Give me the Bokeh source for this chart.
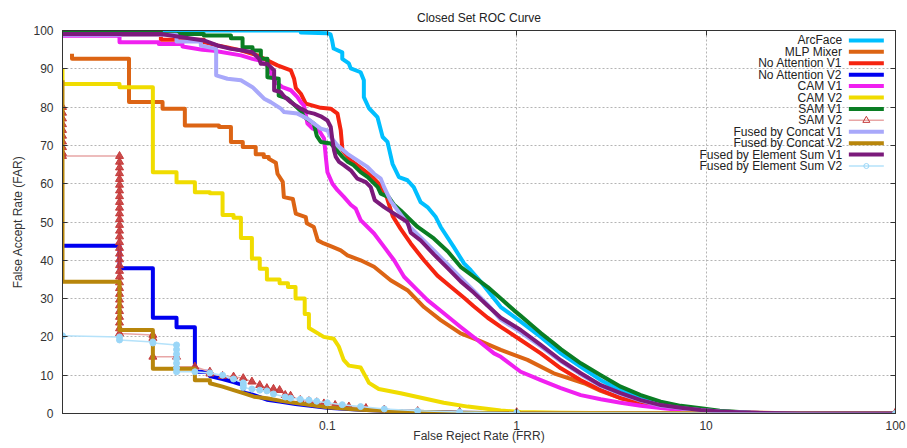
from bokeh.plotting import figure
from bokeh.models import Range1d, LinearScale, FixedTicker, LinearAxis, LogAxis
from bokeh.core.properties import value
from bokeh.embed import file_html
from bokeh.resources import INLINE

FONT = "Liberation Sans"

# ---------------- data (FRR %, FAR %) ----------------
x_ticks = [0.1, 1, 10, 100]
x_tick_labels = ["0.1", "1", "10", "100"]
y_ticks = [0, 10, 20, 30, 40, 50, 60, 70, 80, 90, 100]

series_names = ["ArcFace", "MLP Mixer", "No Attention V1", "No Attention V2", "CAM V1", "CAM V2",
                "SAM V1", "SAM V2", "Fused by Concat V1", "Fused by Concat V2",
                "Fused by Element Sum V1", "Fused by Element Sum V2"]

arcface_frr = [0.004, 0.0725, 0.0725, 0.100, 0.104, 0.106, 0.108, 0.120, 0.120, 0.130,
               0.133, 0.150, 0.156, 0.156, 0.166, 0.184, 0.196, 0.208, 0.221, 0.239,
               0.265, 0.286, 0.311, 0.338, 0.374, 0.397, 0.465, 0.527, 0.572, 0.646,
               0.759, 0.824, 1.05, 1.34, 1.71, 2.18, 2.78, 3.54, 4.52, 5.76,
               7.35, 9.36, 11.8, 17.2, 31.6, 100]
arcface_far = [100, 100, 99.5, 99.3, 99.0, 97.4, 95.3, 94.3, 92.6, 91.4,
               90.1, 89.1, 87.0, 82.6, 79.7, 77.4, 72.2, 70.9, 65.2, 61.7,
               60.9, 59.1, 55.2, 53.9, 51.3, 48.7, 43.5, 39.2, 37.4, 34.4,
               30.0, 27.8, 24.0, 20.0, 15.7, 12.2, 8.7, 6.1, 4.0, 2.7,
               1.8, 1.2, 0.5, 0.2, 0.0, 0.0]

mlp_frr = [0.00449, 0.00449, 0.00898, 0.00898, 0.0135, 0.0135, 0.0177, 0.0177, 0.0268, 0.0268,
           0.0310, 0.0310, 0.0358, 0.0358, 0.0419, 0.0419, 0.0462, 0.0462, 0.0491, 0.0491,
           0.0535, 0.0546, 0.0582, 0.0590, 0.0658, 0.0682, 0.0770, 0.0779, 0.0849, 0.0891,
           0.0958, 0.1065, 0.1178, 0.1278, 0.150, 0.1766, 0.216, 0.265, 0.324, 0.397,
           0.506, 0.620, 0.824, 1.14, 1.57, 2.27, 2.78, 3.54, 4.52, 5.76,
           7.35, 9.36, 11.8, 19.3, 31.6, 100]
mlp_far = [93.9, 92.6, 92.6, 81.3, 81.3, 79.6, 79.6, 75.2, 75.2, 74.8,
           74.8, 70.9, 70.9, 69.6, 69.6, 67.7, 67.7, 67.0, 67.0, 66.5,
           65.5, 62.6, 60.5, 56.5, 56.0, 52.2, 51.3, 49.7, 48.7, 45.2,
           44.4, 43.5, 42.6, 41.3, 40.0, 38.3, 34.8, 32.2, 27.8, 24.4,
           20.9, 19.2, 16.6, 14.0, 10.5, 7.9, 5.9, 4.0, 2.8, 2.0,
           1.4, 0.9, 0.5, 0.2, 0.0, 0.0]

noatt1_frr = [0.004, 0.01323, 0.01323, 0.0223, 0.0223, 0.0263, 0.0297, 0.0350, 0.0428, 0.0464,
              0.0546, 0.0642, 0.0668, 0.0682, 0.0725, 0.0770, 0.0924, 0.1043, 0.1132, 0.1178,
              0.1203, 0.133, 0.1443, 0.1564, 0.1732, 0.1916, 0.206, 0.2216, 0.244, 0.2758,
              0.324, 0.3815, 0.4484, 0.527, 0.593, 0.703, 0.824, 1.05, 1.34, 1.71,
              2.18, 2.78, 3.54, 4.52, 5.76, 7.35, 9.36, 11.8, 19.3, 31.6, 100]
noatt1_far = [98.8, 98.8, 97.6, 97.6, 97.0, 96.1, 95.6, 94.8, 93.5, 92.6,
              90.9, 89.6, 87.4, 85.0, 83.5, 80.9, 79.8, 79.6, 78.3, 73.9,
              68.7, 66.1, 64.8, 63.5, 61.7, 59.5, 56.5, 51.5, 48.2, 44.4,
              40.0, 36.0, 33.1, 30.2, 28.0, 25.0, 22.6, 19.2, 15.7, 11.8,
              8.7, 6.1, 4.0, 2.7, 1.8, 1.2, 0.7, 0.3, 0.1, 0.0, 0.0]

noatt2_frr = [0.004, 0.008, 0.008, 0.012, 0.012, 0.016, 0.016, 0.020, 0.020, 0.024,
              0.024, 0.028, 0.032, 0.036, 0.036, 0.040, 0.048, 0.056, 0.068, 0.088,
              0.100, 0.15, 0.25, 0.5, 1.0, 100]
noatt2_far = [43.8, 43.8, 37.9, 37.9, 25.0, 25.0, 22.5, 22.5, 10.9, 10.9,
              9.8, 9.0, 8.2, 7.4, 5.5, 5.0, 3.6, 3.1, 2.5, 1.8,
              1.5, 1.0, 0.5, 0.2, 0.05, 0.0]

cam1_frr = [0.004, 0.008, 0.008, 0.0129, 0.0129, 0.0172, 0.0172, 0.0219, 0.0252, 0.0350,
            0.0403, 0.0437, 0.0464, 0.0480, 0.0516, 0.0535, 0.0580, 0.0642, 0.0696, 0.0725,
            0.0754, 0.0786, 0.0836, 0.0905, 0.0962, 0.0982, 0.1002, 0.1065, 0.1132, 0.1227,
            0.133, 0.1413, 0.150, 0.1766, 0.1996, 0.2253, 0.2543, 0.2991, 0.338, 0.4138,
            0.506, 0.620, 0.759, 0.824, 0.967, 1.05, 1.34, 1.71, 2.18, 2.78,
            3.54, 4.52, 5.76, 7.35, 9.36, 11.8, 19.3, 31.6, 100]
cam1_far = [98.6, 98.6, 96.9, 96.9, 96.5, 96.5, 95.8, 95.0, 94.7, 93.5,
            92.6, 92.2, 91.3, 91.0, 88.0, 86.5, 85.2, 84.4, 82.6, 81.3,
            80.4, 75.7, 74.4, 73.9, 71.8, 67.0, 63.0, 60.0, 58.3, 56.5,
            54.5, 53.5, 50.5, 47.0, 43.5, 40.0, 35.7, 32.2, 29.6, 26.1,
            22.6, 19.2, 15.7, 14.8, 12.2, 10.9, 8.7, 6.6, 4.8, 3.7,
            2.8, 2.0, 1.4, 0.9, 0.5, 0.3, 0.1, 0.0, 0.0]

cam2_frr = [0.004, 0.004, 0.008, 0.008, 0.012, 0.012, 0.016, 0.016, 0.020, 0.020,
            0.024, 0.024, 0.028, 0.028, 0.032, 0.032, 0.035, 0.035, 0.040, 0.040,
            0.044, 0.044, 0.048, 0.048, 0.056, 0.056, 0.062, 0.062, 0.068, 0.068,
            0.076, 0.076, 0.080, 0.080, 0.0958, 0.1082, 0.115, 0.122, 0.130, 0.150,
            0.160, 0.166, 0.187, 0.244, 0.300, 0.412, 0.552, 0.824, 1.05, 1.71,
            3.54, 100]
cam2_far = [90.0, 86.0, 86.0, 85.2, 85.2, 63.0, 63.0, 60.4, 60.4, 57.8,
            57.8, 57.5, 57.5, 51.8, 51.8, 51.1, 51.1, 45.8, 45.8, 40.5,
            40.5, 37.8, 37.8, 35.0, 35.0, 34.0, 34.0, 33.0, 33.0, 30.0,
            30.0, 26.0, 26.0, 22.3, 20.0, 19.5, 17.5, 14.0, 12.5, 12.0,
            9.5, 8.0, 6.4, 5.3, 4.3, 2.8, 1.8, 0.8, 0.4, 0.2,
            0.05, 0.0]

sam1_frr = [0.004, 0.01323, 0.01323, 0.0223, 0.0223, 0.0310, 0.0310, 0.0357, 0.0357, 0.0403,
            0.0403, 0.0446, 0.0446, 0.0483, 0.0483, 0.0554, 0.0554, 0.0619, 0.0725, 0.0752,
            0.0849, 0.0880, 0.0924, 0.1043, 0.1203, 0.1283, 0.1380, 0.150, 0.1635, 0.1848,
            0.1916, 0.2111, 0.2245, 0.244, 0.300, 0.365, 0.433, 0.506, 0.594, 0.703,
            0.824, 0.965, 1.05, 1.23, 1.34, 1.57, 1.71, 2.18, 2.78, 3.54,
            4.52, 5.76, 7.35, 9.36, 11.8, 17.2, 31.6, 100]
sam1_far = [99.7, 99.7, 99.1, 99.1, 98.7, 98.7, 98.0, 98.0, 95.6, 95.6,
            94.8, 94.8, 92.6, 92.6, 87.8, 87.4, 83.0, 82.2, 79.0, 77.5,
            75.7, 72.5, 70.9, 70.5, 67.0, 65.7, 64.8, 63.0, 61.7, 59.1,
            57.4, 56.5, 54.6, 53.0, 48.7, 45.7, 42.3, 38.3, 35.7, 33.0,
            30.0, 27.0, 25.5, 22.6, 21.0, 18.3, 16.8, 13.1, 10.0, 7.0,
            4.8, 3.1, 2.0, 1.4, 0.7, 0.2, 0.0, 0.0]

sam2_frr = [0.004, 0.004, 0.004, 0.004, 0.004, 0.004, 0.004, 0.004, 0.004, 0.004,
            0.008, 0.008, 0.008, 0.008, 0.008, 0.008, 0.008, 0.008, 0.008, 0.008,
            0.008, 0.008, 0.008, 0.008, 0.008, 0.008, 0.008, 0.008, 0.008, 0.008,
            0.008, 0.008, 0.008, 0.008, 0.008, 0.008, 0.008, 0.008, 0.008, 0.008,
            0.008, 0.008,
            0.012, 0.012, 0.012, 0.016, 0.016, 0.020, 0.024, 0.024, 0.028, 0.032,
            0.036, 0.040, 0.044, 0.048, 0.052, 0.056, 0.060, 0.064, 0.072, 0.080,
            0.088, 0.096, 0.11, 0.13, 0.16, 0.20, 0.30, 0.50, 1.0, 100]
sam2_far = [80.0, 78.5, 77.0, 75.5, 74.0, 72.5, 71.0, 69.5, 68.0, 67.2,
            67.2, 65.7, 64.2, 62.7, 61.2, 59.7, 58.2, 56.7, 55.2, 53.7,
            52.2, 50.7, 49.2, 47.7, 46.2, 44.7, 43.2, 41.7, 40.2, 38.7,
            37.2, 35.7, 34.2, 32.7, 31.2, 29.7, 28.2, 26.7, 25.2, 23.7,
            22.2, 20.9,
            20.5, 19.7, 14.8, 14.8, 12.2, 12.2, 10.9, 10.4, 9.8, 9.6,
            9.2, 8.3, 7.4, 6.6, 6.4, 6.1, 4.8, 4.6, 3.5, 3.2,
            2.9, 2.6, 2.2, 1.8, 1.4, 1.0, 0.6, 0.4, 0.3, 0.3]

cc1_frr = [0.004, 0.016, 0.016, 0.0215, 0.0215, 0.0259, 0.0259, 0.0297, 0.0350, 0.0403,
           0.0437, 0.0464, 0.0503, 0.0569, 0.0592, 0.0696, 0.0786, 0.0852, 0.0924, 0.1002,
           0.1043, 0.1132, 0.1278, 0.1443, 0.1629, 0.1766, 0.1916, 0.1996, 0.216, 0.244,
           0.2758, 0.311, 0.3662, 0.4306, 0.506, 0.5948, 0.7003, 0.824, 1.05, 1.34,
           1.71, 2.18, 2.78, 3.54, 4.52, 5.76, 7.35, 9.36, 11.8, 19.3,
           31.6, 100]
cc1_far = [98.9, 98.9, 97.1, 97.1, 96.1, 95.2, 88.3, 87.4, 87.0, 85.2,
           83.5, 82.2, 81.3, 79.6, 78.7, 78.3, 77.0, 75.7, 74.4, 73.9,
           72.2, 70.0, 67.8, 66.1, 64.4, 62.6, 61.3, 59.1, 55.5, 52.0,
           48.5, 46.0, 42.5, 39.0, 35.5, 32.0, 28.5, 24.5, 21.2, 17.5,
           13.6, 10.2, 7.2, 5.1, 3.4, 2.1, 1.4, 0.9, 0.5, 0.15,
           0.0, 0.0]

cc2_frr = [0.004, 0.004, 0.008, 0.008, 0.012, 0.012, 0.020, 0.020, 0.024, 0.024,
           0.028, 0.032, 0.036, 0.041, 0.048, 0.057, 0.067, 0.082, 0.100, 0.15,
           0.25, 0.5, 1.0, 100]
cc2_far = [87.0, 34.4, 34.4, 21.8, 21.8, 11.7, 11.7, 8.7, 8.7, 7.9,
           7.0, 6.1, 5.3, 4.4, 4.0, 3.3, 2.8, 2.2, 1.6, 1.0,
           0.5, 0.2, 0.05, 0.0]

es1_frr = [0.004, 0.01323, 0.01686, 0.0223, 0.0263, 0.0310, 0.0357, 0.0403, 0.0437, 0.0446,
           0.0483, 0.0524, 0.0524, 0.0569, 0.0592, 0.0642, 0.0682, 0.0725, 0.0786, 0.0852,
           0.0924, 0.1002, 0.1043, 0.1065, 0.1086, 0.1109, 0.1154, 0.1227, 0.133, 0.1443,
           0.1597, 0.1696, 0.1781, 0.1996, 0.2253, 0.2649, 0.2758, 0.311, 0.3662, 0.4306,
           0.506, 0.5948, 0.7003, 0.824, 1.05, 1.34, 1.71, 2.18, 2.78, 3.54,
           4.52, 5.76, 7.35, 9.36, 11.8, 17.2, 31.6, 100]
es1_far = [99.1, 99.1, 98.3, 97.4, 96.1, 95.2, 94.8, 94.3, 92.6, 91.3,
           91.3, 89.6, 84.4, 83.9, 82.8, 81.3, 80.4, 79.6, 78.7, 78.3,
           77.6, 76.5, 74.8, 71.3, 68.7, 67.0, 65.7, 64.8, 63.5, 61.3,
           60.4, 59.1, 55.7, 53.9, 52.2, 50.0, 47.2, 45.2, 41.5, 38.0,
           34.5, 31.5, 28.2, 25.0, 21.8, 17.9, 13.9, 10.5, 7.4, 5.3,
           3.5, 2.2, 1.5, 0.9, 0.5, 0.2, 0.0, 0.0]

es2_frr = [0.004, 0.008, 0.008, 0.012, 0.012, 0.016, 0.016, 0.016, 0.016, 0.016,
           0.016, 0.016, 0.020, 0.024, 0.028, 0.032, 0.036, 0.036, 0.036, 0.040,
           0.044, 0.048, 0.052, 0.060, 0.064, 0.072, 0.080, 0.088, 0.100, 0.12,
           0.15, 0.20, 0.30, 0.50, 1.0, 100]
es2_far = [20.3, 20.0, 19.2, 18.7, 18.4, 17.9, 16.7, 15.5, 14.3, 13.1,
           11.9, 10.9, 10.9, 10.6, 10.0, 9.0, 8.0, 7.4, 6.8, 6.4,
           6.1, 5.9, 5.1, 4.3, 4.0, 3.7, 3.5, 3.2, 2.8, 2.3,
           1.8, 1.2, 0.7, 0.4, 0.2, 0.0]

# ---------------- styles ----------------
colors = ["#00bfff", "#dc6414", "#f52410", "#0000f0", "#f020f0", "#f0dc00",
          "#0a7d23", "#e8a6a6", "#a8a8fa", "#b8860b", "#7b1a7b", "#b5e2fa"]
SAM2_MARK = "#c53a3a"
ES2_MARK = "#9ad6f7"
TEXT = "#333333"

p = figure(width=907, height=448, x_axis_type="log",
           x_range=Range1d(0.004, 100), y_range=Range1d(0, 100),
           output_backend="svg", toolbar_location=None,
           title="Closed Set ROC Curve",
           min_border_left=62, min_border_right=12, min_border_top=30, min_border_bottom=35)
p.background_fill_color = "white"
p.border_fill_color = "white"
p.outline_line_color = "#333333"
p.title.align = "center"
p.title.vertical_align = "top"
p.title.text_font = FONT
p.title.text_font_size = "12px"
p.title.text_font_style = "normal"
p.title.text_color = "#222222"
p.title.standoff = 8

xa = p.xaxis[0]
ya = p.yaxis[0]
xa.ticker = FixedTicker(ticks=x_ticks)
xa.major_label_overrides = {t: s for t, s in zip(x_ticks, x_tick_labels)}
ya.ticker = FixedTicker(ticks=y_ticks)
xa.axis_label = "False Reject Rate (FRR)"
ya.axis_label = "False Accept Rate (FAR)"
for ax in (xa, ya):
    ax.major_tick_in = 5
    ax.major_tick_out = 0
    ax.minor_tick_in = 0
    ax.minor_tick_out = 0
    ax.axis_line_color = "#333333"
    ax.major_tick_line_color = "#333333"
    ax.major_label_text_font = FONT
    ax.major_label_text_font_size = "12px"
    ax.major_label_text_color = TEXT
    ax.axis_label_text_font = FONT
    ax.axis_label_text_font_size = "12px"
    ax.axis_label_text_font_style = "normal"
    ax.axis_label_text_color = TEXT
xa.major_label_standoff = 7
xa.axis_label_standoff = -4
ya.major_label_standoff = 9
ya.axis_label_standoff = 5

top = LogAxis(ticker=FixedTicker(ticks=x_ticks), major_label_text_font_size="1px",
              major_label_text_alpha=0,
              major_tick_in=5, major_tick_out=0, minor_tick_in=0, minor_tick_out=0,
              major_label_standoff=0, axis_line_color="#333333", major_tick_line_color="#333333")
p.add_layout(top, "above")
right = LinearAxis(ticker=FixedTicker(ticks=y_ticks), major_label_text_font_size="1px",
                   major_label_text_alpha=0,
                   major_tick_in=5, major_tick_out=0, minor_tick_in=0, minor_tick_out=0,
                   major_label_standoff=0, axis_line_color="#333333", major_tick_line_color="#333333")
p.add_layout(right, "right")

p.xgrid.ticker = FixedTicker(ticks=[0.1, 1, 10])
p.ygrid.ticker = FixedTicker(ticks=y_ticks[1:-1])
for g in (p.xgrid[0], p.ygrid[0]):
    g.grid_line_color = "#b4b4b4"
    g.grid_line_dash = "2 2"
    g.grid_line_width = 1

series = [(arcface_frr, arcface_far), (mlp_frr, mlp_far), (noatt1_frr, noatt1_far),
          (noatt2_frr, noatt2_far), (cam1_frr, cam1_far), (cam2_frr, cam2_far),
          (sam1_frr, sam1_far), (sam2_frr, sam2_far), (cc1_frr, cc1_far),
          (cc2_frr, cc2_far), (es1_frr, es1_far), (es2_frr, es2_far)]

for i, (xs, ys) in enumerate(series):
    name = series_names[i]
    if name == "SAM V2":
        p.line(xs, ys, line_color=colors[i], line_width=1.5)
        p.scatter(xs, ys, marker="triangle", size=8, line_color=SAM2_MARK,
                  fill_color=SAM2_MARK, fill_alpha=0.9, line_width=1)
    elif name == "Fused by Element Sum V2":
        p.line(xs, ys, line_color=colors[i], line_width=1.5)
        p.scatter(xs, ys, marker="circle", size=6, line_color=ES2_MARK,
                  fill_color=ES2_MARK, line_width=1)
    else:
        p.line(xs, ys, line_color=colors[i], line_width=4, line_join="round")

# ---------------- legend (drawn in frame-fraction coordinates) ----------------
p.extra_x_ranges = {"lg": Range1d(0, 1)}
p.extra_y_ranges = {"lg": Range1d(0, 1)}
p.extra_x_scales = {"lg": LinearScale()}
p.extra_y_scales = {"lg": LinearScale()}

LEG_TX, LEG_X0, LEG_X1, LEG_Y0, LEG_DY = 0.936, 0.944, 0.986, 0.974, 0.0298
leg_y = [LEG_Y0 - i * LEG_DY for i in range(len(series_names))]
thin = {"SAM V2", "Fused by Element Sum V2"}
p.text(x=[LEG_TX] * len(series_names), y=leg_y, text=series_names,
       x_range_name="lg", y_range_name="lg", text_align="right", text_baseline="middle",
       text_font=value(FONT), text_font_size=value("12px"), text_color="#222222")
p.segment(x0=[LEG_X0] * len(series_names), y0=leg_y, x1=[LEG_X1] * len(series_names), y1=leg_y,
          line_color=colors, line_width=[1.5 if n in thin else 4 for n in series_names],
          x_range_name="lg", y_range_name="lg")
xm = (LEG_X0 + LEG_X1) / 2
p.scatter(x=[xm], y=[leg_y[7]], marker="triangle", size=7, line_color=SAM2_MARK,
          fill_color="white", fill_alpha=0, x_range_name="lg", y_range_name="lg")
p.scatter(x=[xm], y=[leg_y[11]], marker="circle", size=5, line_color=ES2_MARK,
          fill_color="white", fill_alpha=0, x_range_name="lg", y_range_name="lg")

open("out.html", "w").write(file_html(p, INLINE))
